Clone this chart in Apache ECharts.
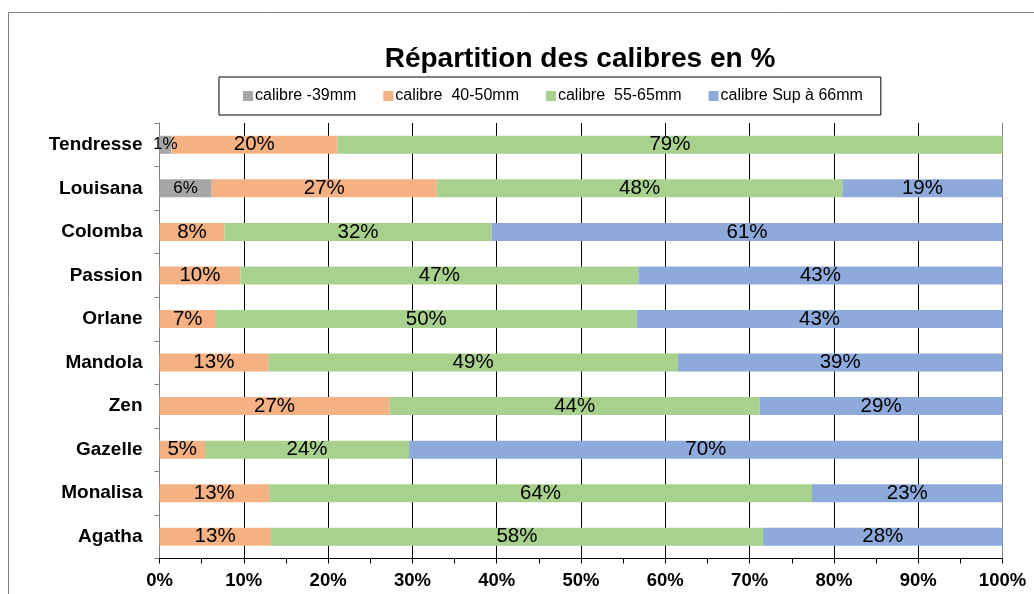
<!DOCTYPE html>
<html>
<head>
<meta charset="utf-8">
<title>Répartition des calibres en %</title>
<script src="https://cdn.jsdelivr.net/npm/echarts@6/dist/echarts.min.js"></script>
<style>
    html, body { margin: 0; padding: 0; background: #fff; }
    #calibres_con { width: 1034px; height: 594px; }
</style>
</head>
<body>
<div id="calibres_con"></div>
<script>
// varietes, du haut vers le bas
const varietes = ['Tendresse', 'Louisana', 'Colomba', 'Passion', 'Orlane', 'Mandola', 'Zen', 'Gazelle', 'Monalisa', 'Agatha'];
const seriesNames = ['calibre -39mm', 'calibre  40-50mm', 'calibre  55-65mm', 'calibre Sup à 66mm'];
const cal39 = [1.4, 6.2, 0, 0, 0, 0, 0, 0, 0, 0];
const cal40_50 = [19.7, 26.7, 7.7, 9.6, 6.7, 12.9, 27.3, 5.4, 13.0, 13.2];
const cal55_65 = [78.9, 48.1, 31.7, 47.2, 49.9, 48.6, 43.9, 24.2, 64.4, 58.4];
const calSup66 = [0, 19.0, 60.6, 43.2, 43.4, 38.5, 28.8, 70.4, 22.6, 28.4];
const xTicks = [0, 10, 20, 30, 40, 50, 60, 70, 80, 90, 100];

const couleurs = ['#a6a6a6', '#f4b183', '#a9d18e', '#8eaadb'];
const font = '"Liberation Sans", Arial, sans-serif';

let chart = echarts.init(document.getElementById('calibres_con'));

function serie (idx, values, labelSize) {
    return {
        name: seriesNames[idx],
        type: 'bar',
        stack: 'total',
        barWidth: 18,
        itemStyle: {color: couleurs[idx]},
        label: {
            show: true,
            position: 'inside',
            color: '#000',
            fontFamily: font,
            fontSize: labelSize,
            formatter: function (p) {
                return p.value ? Math.round(p.value) + '%' : '';
            }
        },
        data: values
    };
}

// lignes verticales : 0% et 100% en gris, le reste en noir
let splitColors = xTicks.map(function (t) {
    return (t === 0 || t === 100) ? '#808080' : '#000';
});

const option = {
    animation: false,
    textStyle: {fontFamily: font},
    title: {
        text: 'Répartition des calibres en %',
        left: 575,
        top: 40,
        textAlign: 'center',
        textStyle: {fontSize: 28, fontWeight: 'bold', color: '#000', fontFamily: font}
    },
    legend: {
        left: 219,
        top: 77,
        padding: [11, 18, 11, 24],
        itemGap: 27,
        itemWidth: 10,
        itemHeight: 10,
        icon: 'rect',
        borderColor: '#000',
        borderWidth: 1,
        textStyle: {fontSize: 16, color: '#000', fontFamily: font, padding: [0, 0, 0, -3]},
        data: seriesNames
    },
    grid: {
        left: 159.5,
        right: 31.5,
        top: 123,
        bottom: 35.5,
        containLabel: false
    },
    xAxis: {
        type: 'value',
        min: 0,
        max: 100,
        interval: 10,
        axisLine: {show: true, lineStyle: {color: '#000', width: 1}},
        axisTick: {show: true, length: 5, lineStyle: {color: '#000'}},
        minorTick: {show: true, splitNumber: 2, length: 5, lineStyle: {color: '#000'}},
        axisLabel: {
            margin: 13,
            fontSize: 18.5,
            fontWeight: 'bold',
            color: '#000',
            fontFamily: font,
            formatter: '{value}%'
        },
        splitLine: {show: true, lineStyle: {color: splitColors, width: 1}}
    },
    yAxis: {
        type: 'category',
        inverse: true,
        data: varietes,
        axisLine: {show: true, lineStyle: {color: '#808080', width: 1}},
        axisTick: {show: true, length: 5, lineStyle: {color: '#808080'}},
        axisLabel: {
            margin: 17,
            fontSize: 19,
            fontWeight: 'bold',
            color: '#000',
            fontFamily: font
        }
    },
    graphic: [
        {
            type: 'rect',
            shape: {x: 8.5, y: 12.5, width: 1200, height: 700},
            style: {fill: 'none', stroke: '#808080', lineWidth: 1},
            silent: true
        }
    ],
    series: [
        serie(0, cal39, 17),
        serie(1, cal40_50, 20.5),
        serie(2, cal55_65, 20.5),
        serie(3, calSup66, 20.5)
    ]
};

chart.setOption(option);

window.addEventListener('resize', function () {
    chart.resize();
});
</script>
</body>
</html>
